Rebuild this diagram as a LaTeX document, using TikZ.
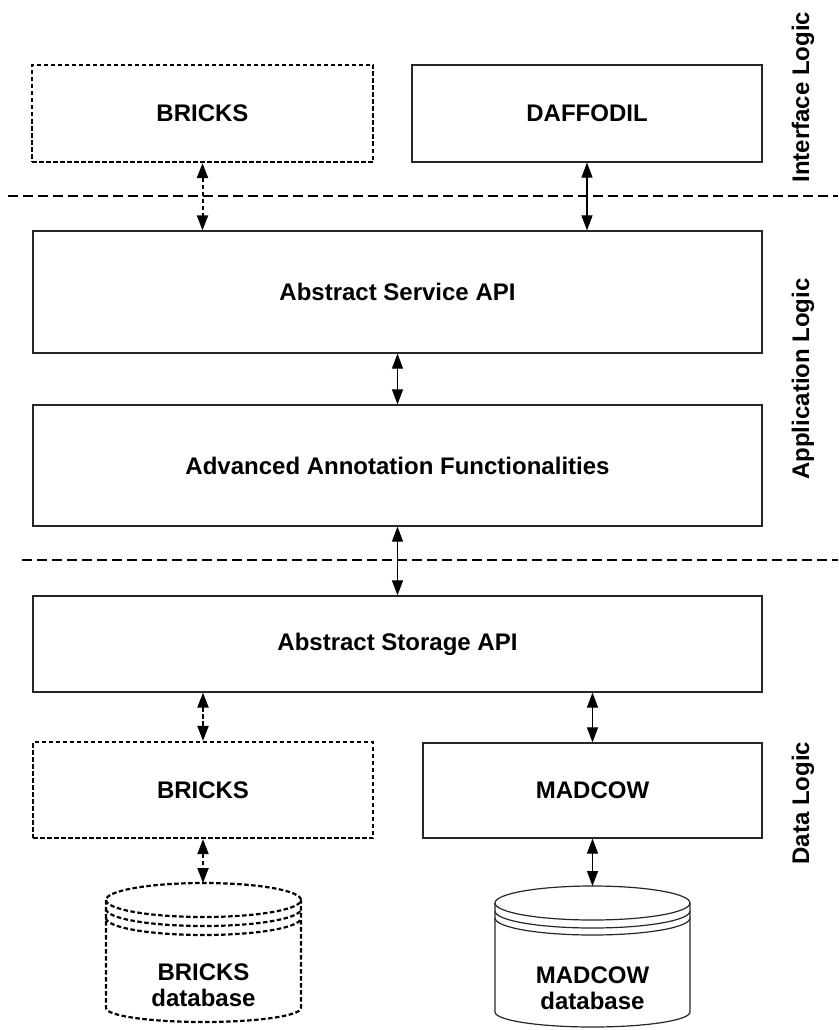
\documentclass[tikz,border=0pt]{standalone}
\usepackage{fontspec}
\setmainfont{Liberation Sans}
\usetikzlibrary{arrows.meta}
\tikzset{
  lbl/.style={font=\fontsize{24}{26}\selectfont\bfseries, align=center},
  box/.style={draw=black!85, line width=1.2pt, rectangle, inner sep=0pt, lbl},
  dbox/.style={draw=black, line width=2.2pt, dash pattern=on 4.5pt off 2.5pt, rectangle, inner sep=0pt, lbl},
  arr/.style={line width=1.1pt, {Triangle[length=15pt,width=11pt]}-{Triangle[length=15pt,width=11pt]}},
  darr/.style={arr, line width=2pt, dash pattern=on 4.5pt off 2.5pt},
  sep/.style={line width=2.5pt, dash pattern=on 10pt off 5pt},
  cyl/.style={line width=1.2pt, draw=black!85},
  dcyl/.style={line width=2.2pt, dash pattern=on 4.5pt off 2.5pt},
  side/.style={lbl, rotate=90}
}
\begin{document}
\begin{tikzpicture}[x=1pt,y=-1pt]
\useasboundingbox (0,0) rectangle (838,1030);
% boxes
\node[dbox, minimum width=341, minimum height=97] (bricksT) at (202.5,113.5) {BRICKS};
\node[box, minimum width=350, minimum height=97] (daffodil) at (587,113.5) {DAFFODIL};
\node[box, minimum width=729, minimum height=122] (service) at (397.5,292) {Abstract Service API};
\node[box, minimum width=729, minimum height=121] (advanced) at (397.5,465.5) {Advanced Annotation Functionalities};
\node[box, minimum width=729, minimum height=96] (storage) at (397.5,644) {Abstract Storage API};
\node[dbox, minimum width=340, minimum height=96] (bricksB) at (203,790) {BRICKS};
\node[box, minimum width=339, minimum height=95] (madcow) at (592.5,790.5) {MADCOW};
% separators
\coordinate (s1l) at (8,196); \coordinate (s1r) at (838,196);
\coordinate (s2l) at (22,560); \coordinate (s2r) at (838,560);
\draw[sep] (s1l) -- (s1r);
\draw[sep] (s2l) -- (s2r);
% BRICKS database cylinder
\begin{scope}[dcyl]
\draw (106,900) arc[start angle=180, end angle=-180, x radius=97.5, y radius=17];
\draw (106,909) arc[start angle=180, end angle=0, x radius=97.5, y radius=17];
\draw (106,918) arc[start angle=180, end angle=0, x radius=97.5, y radius=17];
\draw (106,900) -- (106,1008) arc[start angle=180, end angle=0, x radius=97.5, y radius=14] -- (301,900);
\end{scope}
\coordinate (bdbtop) at (203.5,883);
\node[lbl] (bdb) at (203.5,985) {BRICKS\\database};
% MADCOW database cylinder
\begin{scope}[cyl]
\draw (495,903) arc[start angle=180, end angle=-180, x radius=97.5, y radius=17];
\draw (495,911) arc[start angle=180, end angle=0, x radius=97.5, y radius=17];
\draw (495,918) arc[start angle=180, end angle=0, x radius=97.5, y radius=17];
\draw (495,903) -- (495,1012) arc[start angle=180, end angle=0, x radius=97.5, y radius=15] -- (690,903);
\end{scope}
\coordinate (mdbtop) at (592.5,886);
\node[lbl] (mdb) at (592.5,988) {MADCOW\\database};
% connectors
\draw[darr] (bricksT.south) -- (bricksT.south |- service.north);
\draw[arr] (daffodil.south) -- (daffodil.south |- service.north);
\draw[arr] (service.south) -- (advanced.north);
\draw[arr] (advanced.south) -- (storage.north);
\draw[darr] (bricksB.north |- storage.south) -- (bricksB.north);
\draw[arr] (madcow.north |- storage.south) -- (madcow.north);
\draw[darr] (bricksB.south) -- (bricksB.south |- bdbtop);
\draw[arr] (madcow.south) -- (madcow.south |- mdbtop);
% side labels
\node[side] (il) at (803,97) {Interface Logic};
\node[side] (al) at (803,379) {Application Logic};
\node[side] (dl) at (803,803) {Data Logic};
\end{tikzpicture}
\end{document}
